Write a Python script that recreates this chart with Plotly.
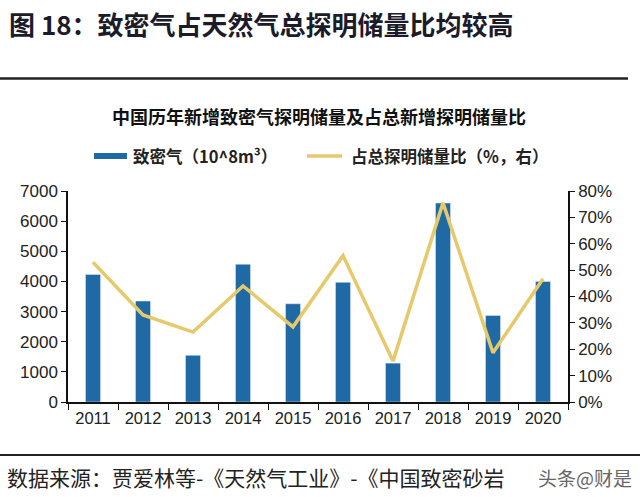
import plotly.graph_objects as go

years = ["2011", "2012", "2013", "2014", "2015", "2016", "2017", "2018", "2019", "2020"]
tight_gas = [4230, 3350, 1550, 4570, 3260, 3970, 1290, 6600, 2870, 4000]
share = [0.53, 0.33, 0.265, 0.44, 0.285, 0.555, 0.155, 0.755, 0.187, 0.467]

title_text = "图 18：致密气占天然气总探明储量比均较高"
subtitle_text = "中国历年新增致密气探明储量及占总新增探明储量比"
bar_name = "致密气（10^8m³）"
line_name = "占总探明储量比（%，右）"
source_text = "数据来源：贾爱林等-《天然气工业》-《中国致密砂岩"
watermark_text = "头条@财是"

BAR_COLOR = "#1F6AA5"
LINE_COLOR = "#E6C96A"
W, H = 640, 497
L, R, T, B = 68, 72, 191, 95
ph = H - T - B
pw = W - L - R

def py(y):  # pixel y -> paper y
    return (H - B - y) / ph

def px(x):
    return (x - L) / pw

fig = go.Figure()
fig.add_trace(go.Bar(x=years, y=tight_gas, name=bar_name, marker_color=BAR_COLOR,
                     width=0.3, showlegend=False))
fig.add_trace(go.Scatter(x=years, y=share, name=line_name, yaxis="y2", mode="lines",
                         line=dict(color=LINE_COLOR, width=3.5), showlegend=False))

cjk = "Noto Sans CJK SC"
num_font = "Liberation Sans, Arial"
tick_font = dict(family=num_font, size=17, color="#222")

fig.update_layout(
    width=W, height=H,
    margin=dict(l=L, r=R, t=T, b=B),
    plot_bgcolor="white", paper_bgcolor="white",
    xaxis=dict(type="category", range=[-0.5, 9.5], showline=True, linecolor="#111", linewidth=1.5,
               ticks="outside", tickson="boundaries", ticklen=6, tickcolor="#111",
               tickfont=dict(family=num_font, size=16.5, color="#222"),
               showgrid=False, fixedrange=True),
    yaxis=dict(range=[0, 7000], dtick=1000, showline=True, linecolor="#111", linewidth=1.5,
               ticks="outside", ticklen=5, tickcolor="#111", showgrid=False, zeroline=False,
               tickfont=tick_font),
    yaxis2=dict(range=[0, 0.8], dtick=0.1, tickformat=".0%", overlaying="y", side="right",
                showline=True, linecolor="#111", linewidth=1.5, ticks="outside", ticklen=5,
                tickcolor="#111", showgrid=False, zeroline=False, tickfont=tick_font),
)

shapes = [
    dict(type="line", xref="paper", yref="paper", x0=px(0), x1=px(628), y0=py(78.5), y1=py(78.5),
         line=dict(color="#222", width=2.5)),
    dict(type="line", xref="paper", yref="paper", x0=px(0), x1=px(640), y0=py(455), y1=py(455),
         line=dict(color="#222", width=2)),
    # legend icons
    dict(type="rect", xref="paper", yref="paper", x0=px(94), x1=px(127), y0=py(159), y1=py(153),
         fillcolor=BAR_COLOR, line=dict(width=0)),
    dict(type="line", xref="paper", yref="paper", x0=px(307), x1=px(342), y0=py(156), y1=py(156),
         line=dict(color=LINE_COLOR, width=3.5)),
]
fig.update_layout(shapes=shapes)

annotations = [
    dict(text="<b>" + title_text + "</b>", x=px(7), y=py(23), xanchor="left", yanchor="middle",
         font=dict(family=cjk, size=26, color="#1b1b2a")),
    dict(text="<b>" + subtitle_text + "</b>", x=px(319), y=py(116), xanchor="center", yanchor="middle",
         font=dict(family=cjk, size=18, color="#111")),
    dict(text="<b>" + bar_name + "</b>", x=px(131), y=py(156), xanchor="left", yanchor="middle",
         font=dict(family=cjk, size=16.5, color="#222")),
    dict(text="<b>" + line_name + "</b>", x=px(349), y=py(156), xanchor="left", yanchor="middle",
         font=dict(family=cjk, size=16.5, color="#222")),
    dict(text=source_text, x=px(5), y=py(477), xanchor="left", yanchor="middle",
         font=dict(family=cjk, size=21, color="#222")),
    dict(text=watermark_text, x=px(634), y=py(477), xanchor="right", yanchor="middle",
         font=dict(family=cjk, size=19, color="#666")),
]
for a in annotations:
    a.update(xref="paper", yref="paper", showarrow=False)
fig.update_layout(annotations=annotations)

fig.write_html("out.html")
